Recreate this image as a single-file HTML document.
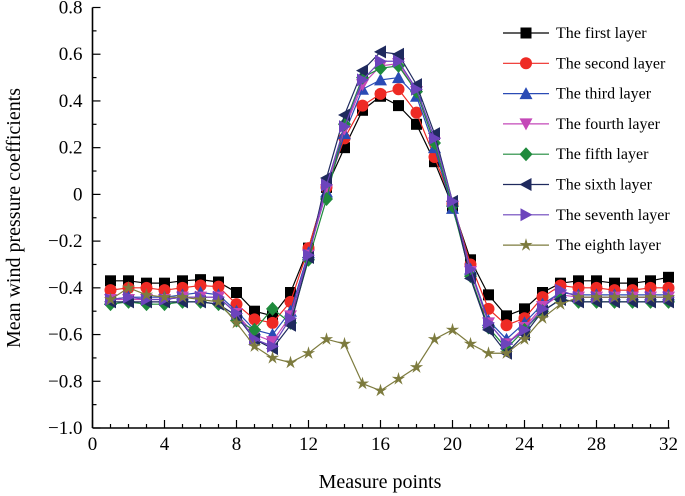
<!DOCTYPE html>
<html><head><meta charset="utf-8"><style>
html,body{margin:0;padding:0;background:#fff}
svg{display:block;font-family:"Liberation Serif",serif}
</style></head><body>
<svg id="chart" width="685" height="496" viewBox="0 0 685 496" xmlns="http://www.w3.org/2000/svg">
<g id="axes"></g>
<g id="series"></g>
<g id="legend"></g>
<text x="20" y="218" font-size="20" text-anchor="middle" transform="rotate(-90 20 218)">Mean wind pressure coefficients</text>
<text x="380" y="488" font-size="20" text-anchor="middle">Measure points</text>
</svg>
<script>
const points = [1,2,3,4,5,6,7,8,9,10,11,12,13,14,15,16,17,18,19,20,21,22,23,24,25,26,27,28,29,30,31,32];
const layer1 = [-0.37,-0.37,-0.38,-0.38,-0.37,-0.365,-0.375,-0.42,-0.5,-0.52,-0.42,-0.23,0.03,0.2,0.36,0.42,0.38,0.30,0.14,-0.05,-0.28,-0.43,-0.52,-0.49,-0.42,-0.38,-0.37,-0.37,-0.38,-0.38,-0.37,-0.355];
const layer2 = [-0.41,-0.40,-0.40,-0.41,-0.40,-0.39,-0.395,-0.47,-0.535,-0.55,-0.46,-0.23,0.03,0.24,0.38,0.43,0.45,0.35,0.16,-0.04,-0.30,-0.49,-0.56,-0.53,-0.44,-0.39,-0.40,-0.40,-0.41,-0.41,-0.40,-0.40];
const layer3 = [-0.45,-0.44,-0.44,-0.44,-0.43,-0.42,-0.43,-0.50,-0.58,-0.60,-0.50,-0.25,0.01,0.26,0.45,0.49,0.50,0.42,0.20,-0.06,-0.32,-0.54,-0.62,-0.55,-0.47,-0.42,-0.43,-0.43,-0.43,-0.43,-0.43,-0.43];
const layer4 = [-0.45,-0.45,-0.45,-0.45,-0.44,-0.44,-0.44,-0.51,-0.60,-0.63,-0.52,-0.26,0.02,0.28,0.47,0.55,0.56,0.44,0.22,-0.05,-0.33,-0.55,-0.64,-0.57,-0.48,-0.43,-0.44,-0.44,-0.44,-0.44,-0.44,-0.44];
const layer5 = [-0.47,-0.46,-0.47,-0.47,-0.46,-0.46,-0.47,-0.54,-0.58,-0.49,-0.55,-0.28,-0.02,0.30,0.50,0.54,0.55,0.44,0.22,-0.05,-0.35,-0.57,-0.66,-0.58,-0.50,-0.45,-0.46,-0.46,-0.46,-0.46,-0.46,-0.46];
const layer6 = [-0.46,-0.46,-0.46,-0.46,-0.46,-0.46,-0.47,-0.52,-0.62,-0.66,-0.56,-0.27,0.07,0.34,0.53,0.61,0.60,0.47,0.26,-0.03,-0.36,-0.58,-0.68,-0.60,-0.50,-0.45,-0.46,-0.46,-0.46,-0.46,-0.46,-0.46];
const layer7 = [-0.45,-0.44,-0.45,-0.45,-0.44,-0.44,-0.44,-0.51,-0.62,-0.65,-0.53,-0.26,0.04,0.29,0.49,0.57,0.57,0.45,0.24,-0.03,-0.32,-0.55,-0.64,-0.58,-0.49,-0.41,-0.44,-0.44,-0.44,-0.44,-0.44,-0.44];
const layer8 = [-0.45,-0.40,-0.43,-0.44,-0.44,-0.45,-0.46,-0.55,-0.65,-0.70,-0.72,-0.68,-0.62,-0.64,-0.81,-0.84,-0.79,-0.74,-0.62,-0.58,-0.64,-0.68,-0.68,-0.62,-0.53,-0.47,-0.44,-0.44,-0.44,-0.44,-0.44,-0.44];
const seriesNames = ["The first layer","The second layer","The third layer","The fourth layer","The fifth layer","The sixth layer","The seventh layer","The eighth layer"];
const xTicks = [0,4,8,12,16,20,24,28,32];
const yTicks = [0.8,0.6,0.4,0.2,0,-0.2,-0.4,-0.6,-0.8,-1.0];

const NS="http://www.w3.org/2000/svg";
const X0=92.5,X1=668.5,Y0=428,Y1=7.5;
const xS=v=>X0+(v-0)/(32-0)*(X1-X0);
const yS=v=>Y0-(v+1)/(1.8)*(Y0-Y1);
function mk(tag,attrs,parent){const e=document.createElementNS(NS,tag);for(const k in attrs)e.setAttribute(k,attrs[k]);parent.appendChild(e);return e;}
const axes=document.getElementById('axes');
let e=mk('line',{x1:X0,y1:Y0,x2:X1+1,y2:Y0,stroke:'#000','stroke-width':1.6},axes);


e=mk('line',{x1:X0,y1:Y0,x2:X0,y2:Y1,stroke:'#000','stroke-width':1.6},axes);


for(let i=0;i<=32;i++){const x=xS(i);const maj=i%4===0;mk('line',{x1:x,y1:Y0,x2:x,y2:Y0-(maj?8:4),stroke:'#000','stroke-width':1.2},axes);}
xTicks.forEach(t=>{const l=mk('text',{x:xS(t),y:Y0+22,'font-size':19,'text-anchor':'middle'},axes);l.textContent=t;

});
for(let i=0;i<=18;i++){const v=-1+i*0.1;const y=yS(v);const maj=i%2===0;mk('line',{x1:X0,y1:y,x2:X0+(maj?8:4),y2:y,stroke:'#000','stroke-width':1.2},axes);}
yTicks.forEach(t=>{const l=mk('text',{x:X0-10,y:yS(t)+6,'font-size':19,'text-anchor':'end'},axes);l.textContent=(t===0?'0':t.toFixed(1)).replace('-','\u2212');

});

const colors=['#000000','#ee2a24','#2a4bb5','#c448b8','#1f8a3c','#1f2a5e','#6c44bc','#7d7b3e'];
const shapes=['square','circle','up','down','diamond','left','right','star'];
function marker(g,shape,x,y,c,r){
  let el;
  if(shape==='square')el=mk('rect',{x:x-r,y:y-r,width:2*r,height:2*r,fill:c},g);
  else if(shape==='circle')el=mk('circle',{cx:x,cy:y,r:r+0.5,fill:c},g);
  else{let p;
    if(shape==='up')p=[[x,y-r-1],[x+r+1,y+r],[x-r-1,y+r]];
    else if(shape==='down')p=[[x,y+r+1],[x+r+1,y-r],[x-r-1,y-r]];
    else if(shape==='left')p=[[x-r-1,y],[x+r,y-r-1],[x+r,y+r+1]];
    else if(shape==='right')p=[[x+r+1,y],[x-r,y-r-1],[x-r,y+r+1]];
    else if(shape==='diamond')p=[[x,y-r-1.5],[x+r+1,y],[x,y+r+1.5],[x-r-1,y]];
    else{p=[];for(let k=0;k<10;k++){const a=-Math.PI/2+k*Math.PI/5;const rr=k%2?r*0.45:r+1.5;p.push([x+rr*Math.cos(a),y+rr*Math.sin(a)]);}}
    el=mk('polygon',{points:p.map(q=>q.join(',')).join(' '),fill:c},g);}
  return el;
}
const data=[layer1,layer2,layer3,layer4,layer5,layer6,layer7,layer8];
const sg=document.getElementById('series');
data.forEach((vals,si)=>{
  const g=mk('g',{},sg);
  
  
  const pl=mk('polyline',{points:vals.map((v,i)=>xS(points[i])+','+yS(v)).join(' '),fill:'none',stroke:colors[si],'stroke-width':1.2},g);
  
  
  vals.forEach((v,i)=>{const m=marker(g,shapes[si],xS(points[i]),yS(v),colors[si],5.5);
    
    });
});
const lg=document.getElementById('legend');
seriesNames.forEach((n,i)=>{
  const y=33+i*30.3;
  const g=mk('g',{},lg);
  
  
  mk('line',{x1:503,y1:y,x2:549,y2:y,stroke:colors[i],'stroke-width':1.2},g);
  marker(g,shapes[i],526,y,colors[i],5.5);
  const t=mk('text',{x:556,y:y+5,'font-size':16},g);t.textContent=n;
});
</script>
</body></html>
